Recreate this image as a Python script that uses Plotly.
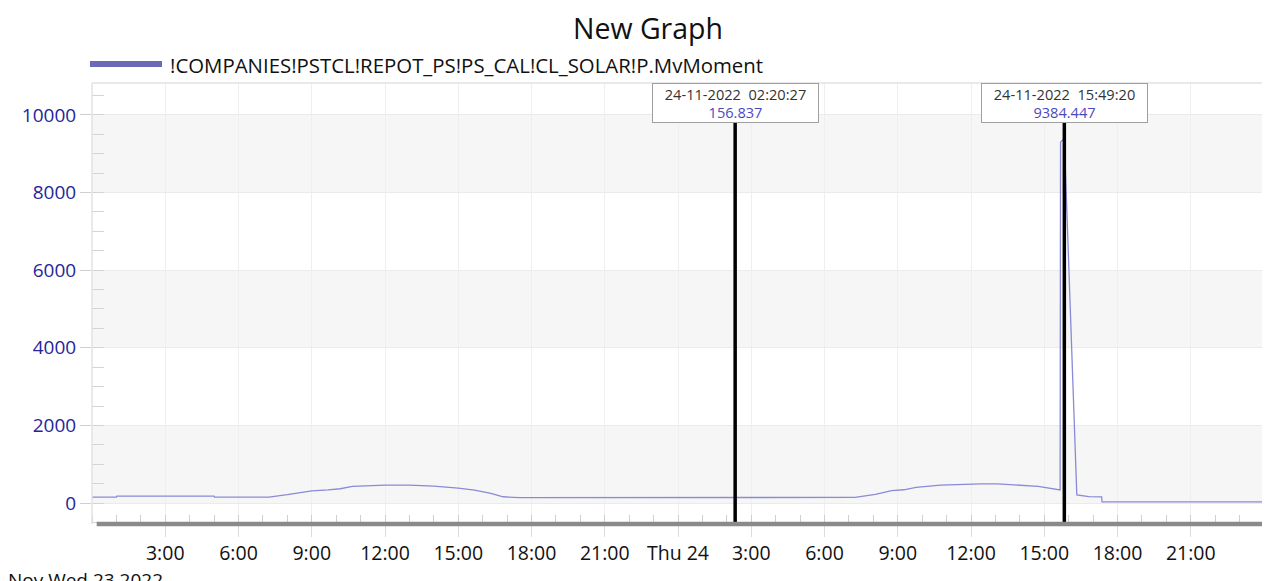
import plotly.graph_objects as go

# ---------------- data ----------------
series_name = "!COMPANIES!PSTCL!REPOT_PS!PS_CAL!CL_SOLAR!P.MvMoment"
times = [
    "2022-11-23 00:00:00", "2022-11-23 01:00:00", "2022-11-23 01:01:00", "2022-11-23 05:00:00",
    "2022-11-23 05:01:00", "2022-11-23 07:15:00", "2022-11-23 08:00:00", "2022-11-23 09:00:00",
    "2022-11-23 09:40:00", "2022-11-23 10:10:00", "2022-11-23 10:40:00", "2022-11-23 11:20:00",
    "2022-11-23 12:00:00", "2022-11-23 13:00:00", "2022-11-23 14:00:00", "2022-11-23 15:00:00",
    "2022-11-23 15:40:00", "2022-11-23 16:20:00", "2022-11-23 16:50:00", "2022-11-23 17:30:00",
    "2022-11-24 02:20:00", "2022-11-24 02:20:27", "2022-11-24 04:00:00", "2022-11-24 04:01:00",
    "2022-11-24 07:15:00", "2022-11-24 08:05:00", "2022-11-24 08:45:00", "2022-11-24 09:15:00",
    "2022-11-24 09:45:00", "2022-11-24 10:45:00", "2022-11-24 11:25:00", "2022-11-24 12:25:00",
    "2022-11-24 13:05:00", "2022-11-24 14:05:00", "2022-11-24 14:45:00", "2022-11-24 15:39:00",
    "2022-11-24 15:40:00", "2022-11-24 15:49:20", "2022-11-24 16:20:00", "2022-11-24 16:50:00",
    "2022-11-24 17:21:00", "2022-11-24 17:22:00", "2022-11-25 00:00:00",
]
values = [
    155, 155, 180, 180,
    155, 155, 215, 315,
    340, 368, 428, 452,
    462, 462, 438, 385,
    335, 248, 162, 138,
    138, 156.837, 155, 145,
    145, 222, 318, 342,
    402, 462, 480, 496,
    496, 462, 428, 336,
    9300, 9384.447, 210, 165,
    160, 28, 28,
]

cursor_times = ["2022-11-24 02:20:27", "2022-11-24 15:49:20"]
cursor_labels = ["24-11-2022  02:20:27", "24-11-2022  15:49:20"]
cursor_values = ["156.837", "9384.447"]

x_tickvals = [
    "2022-11-23 03:00", "2022-11-23 06:00", "2022-11-23 09:00", "2022-11-23 12:00",
    "2022-11-23 15:00", "2022-11-23 18:00", "2022-11-23 21:00", "2022-11-24 00:00",
    "2022-11-24 03:00", "2022-11-24 06:00", "2022-11-24 09:00", "2022-11-24 12:00",
    "2022-11-24 15:00", "2022-11-24 18:00", "2022-11-24 21:00",
]
x_ticktext = ["3:00", "6:00", "9:00", "12:00", "15:00", "18:00", "21:00", "Thu 24",
              "3:00", "6:00", "9:00", "12:00", "15:00", "18:00", "21:00"]
y_tickvals = [0, 2000, 4000, 6000, 8000, 10000]
y_ticktext = ["0", "2000", "4000", "6000", "8000", "10000"]
bands = [(0, 2000), (4000, 6000), (8000, 10000)]
date_label = "Nov Wed 23 2022"

# ---------------- layout constants ----------------
# The page body has an 8px margin, so the figure is drawn 8px smaller and
# every target pixel position is shifted by OFF.
OFF = 8
W, H = 1270 - OFF, 581 - OFF
PLOT_L, PLOT_R, PLOT_T, PLOT_B = 92 - OFF, 1264 - OFF, 83 - OFF, 524 - OFF
L, R, T, B = PLOT_L, W - PLOT_R, PLOT_T, H - PLOT_B
PW, PH = PLOT_R - PLOT_L, PLOT_B - PLOT_T
FONT = "Open Sans"


def px(xpix):  # reference pixel x -> paper x
    return (xpix - OFF - PLOT_L) / PW


def py(ypix):  # reference pixel y -> paper y
    return (PLOT_B - (ypix - OFF)) / PH


fig = go.Figure()
fig.add_trace(go.Scatter(x=times, y=values, mode="lines", name=series_name,
                         line=dict(color="#8a8ad6", width=1.3), showlegend=False,
                         hoverinfo="x+y"))

shapes = []
for y0, y1 in bands:
    shapes.append(dict(type="rect", xref="paper", yref="y", x0=0, x1=1, y0=y0, y1=y1,
                       fillcolor="#f6f6f6", line=dict(width=0), layer="below"))
for ct in cursor_times:
    shapes.append(dict(type="line", xref="x", yref="paper", x0=ct, x1=ct, y0=0, y1=1,
                       line=dict(color="black", width=3.5)))
# borders
shapes += [
    dict(type="line", xref="paper", yref="paper", x0=0, x1=1, y0=1, y1=1, line=dict(color="#e2e2e2", width=1.5)),
    dict(type="line", xref="paper", yref="paper", x0=0, x1=0, y0=0, y1=1, line=dict(color="#e2e2e2", width=1.5)),
    dict(type="line", xref="paper", yref="paper", x0=0.004, x1=1, y0=0, y1=0, line=dict(color="#8a8a8a", width=4.5)),
    dict(type="line", xref="paper", yref="paper", x0=1, x1=1, y0=0, y1=1, line=dict(color="#8a8a8a", width=4)),
]
# legend line
shapes.append(dict(type="line", xref="paper", yref="paper",
                   x0=px(90), x1=px(162), y0=py(64), y1=py(64),
                   line=dict(color="#6a6ab6", width=6)))

annotations = [
    dict(text=series_name, xref="paper", yref="paper", x=px(168), y=py(65),
         xanchor="left", yanchor="middle", showarrow=False,
         font=dict(family=FONT, size=20.4, color="#111111")),
    dict(text=date_label, xref="paper", yref="paper", x=px(6), y=py(565),
         xanchor="left", yanchor="top", showarrow=False,
         font=dict(family=FONT, size=19, color="#111111")),
]
for ct, cl, cv in zip(cursor_times, cursor_labels, cursor_values):
    annotations.append(dict(
        text=f"{cl}<br><span style='color:#4a4abf'>{cv}</span>",
        xref="x", yref="paper", x=ct, y=1, xanchor="center", yanchor="top",
        showarrow=False, bgcolor="white", bordercolor="#a0a0a0", borderwidth=1,
        width=163, height=36, borderpad=1, align="center",
        font=dict(family=FONT, size=14.6, color="#333333")))

fig.update_layout(
    width=W, height=H,
    margin=dict(l=L, r=R, t=T, b=B, autoexpand=False),
    paper_bgcolor="white", plot_bgcolor="white",
    title=dict(text="New Graph", x=(648 - OFF) / W, xref="container", xanchor="center",
               y=1 - (29 - OFF) / H, yref="container", yanchor="middle",
               font=dict(family=FONT, size=28.5, color="#111111")),
    xaxis=dict(
        range=["2022-11-23 00:00", "2022-11-25 00:00"], type="date",
        tickvals=x_tickvals, ticktext=x_ticktext,
        ticks="outside", ticklen=12, tickcolor="#dcdcdc", tickwidth=1,
        showgrid=True, gridcolor="#efefef", gridwidth=1,
        minor=dict(dtick=3600000, ticks="inside", ticklen=9, tickcolor="#cfcfcf", showgrid=False),
        tickfont=dict(family=FONT, size=19.5, color="#111111"),
        showline=False, zeroline=False, fixedrange=True,
    ),
    yaxis=dict(
        range=[-540, 10823],
        tickvals=y_tickvals, ticktext=y_ticktext,
        ticks="outside", ticklen=11, tickcolor="#cfcfcf", tickwidth=1,
        showgrid=True, gridcolor="#ebebeb", gridwidth=1,
        minor=dict(dtick=500, ticks="inside", ticklen=12, tickcolor="#d4d4d4", showgrid=False),
        tickfont=dict(family=FONT, size=19, color="#25259a"),
        showline=False, zeroline=False, fixedrange=True,
    ),
    shapes=shapes, annotations=annotations, showlegend=False,
)

fig.write_html("out.html")
